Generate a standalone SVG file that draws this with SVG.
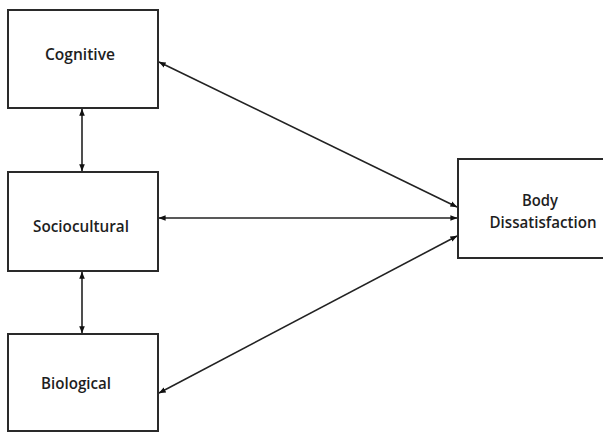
<svg xmlns="http://www.w3.org/2000/svg" width="603" height="432" viewBox="0 0 603 432">
  <style>
    .box { fill: #ffffff; stroke: #2a2a2a; stroke-width: 2; }
    .label { font-family: "Open Sans", "Liberation Sans", sans-serif; font-weight: 600; font-size: 15.5px; fill: #1e1e1e; text-anchor: middle; }
    .link { stroke: #222222; stroke-width: 1.6; fill: none; marker-start: url(#head); marker-end: url(#head); }
  </style>
  <defs>
    <marker id="head" viewBox="0 0 10 10" refX="9.5" refY="5" markerWidth="7" markerHeight="7" markerUnits="userSpaceOnUse" orient="auto-start-reverse">
      <path d="M0,1 L10,5 L0,9 Z" fill="#111111"/>
    </marker>
  </defs>
  <rect width="603" height="432" fill="#ffffff"/>

  <g id="connectors">
    <line class="link" x1="82" y1="109" x2="82" y2="171"/>
    <line class="link" x1="82" y1="272" x2="82" y2="333"/>
    <line class="link" x1="159" y1="62" x2="457" y2="207"/>
    <line class="link" x1="159" y1="218" x2="457" y2="218"/>
    <line class="link" x1="159" y1="393" x2="457" y2="236"/>
  </g>

  <g id="cognitive">
    <rect class="box" x="8" y="10" width="150" height="98"/>
    <text class="label" x="80" y="60" textLength="70" lengthAdjust="spacingAndGlyphs">Cognitive</text>
  </g>

  <g id="sociocultural">
    <rect class="box" x="8" y="172" width="150" height="99"/>
    <text class="label" x="81" y="232" textLength="96" lengthAdjust="spacingAndGlyphs">Sociocultural</text>
  </g>

  <g id="biological">
    <rect class="box" x="8" y="334" width="150" height="97"/>
    <text class="label" x="76" y="389" textLength="70" lengthAdjust="spacingAndGlyphs">Biological</text>
  </g>

  <g id="body-dissatisfaction">
    <rect class="box" x="458" y="159" width="150" height="99"/>
    <text class="label" x="540" y="206" textLength="36" lengthAdjust="spacingAndGlyphs">Body</text>
    <text class="label" x="543" y="228" textLength="107" lengthAdjust="spacingAndGlyphs">Dissatisfaction</text>
  </g>
</svg>
